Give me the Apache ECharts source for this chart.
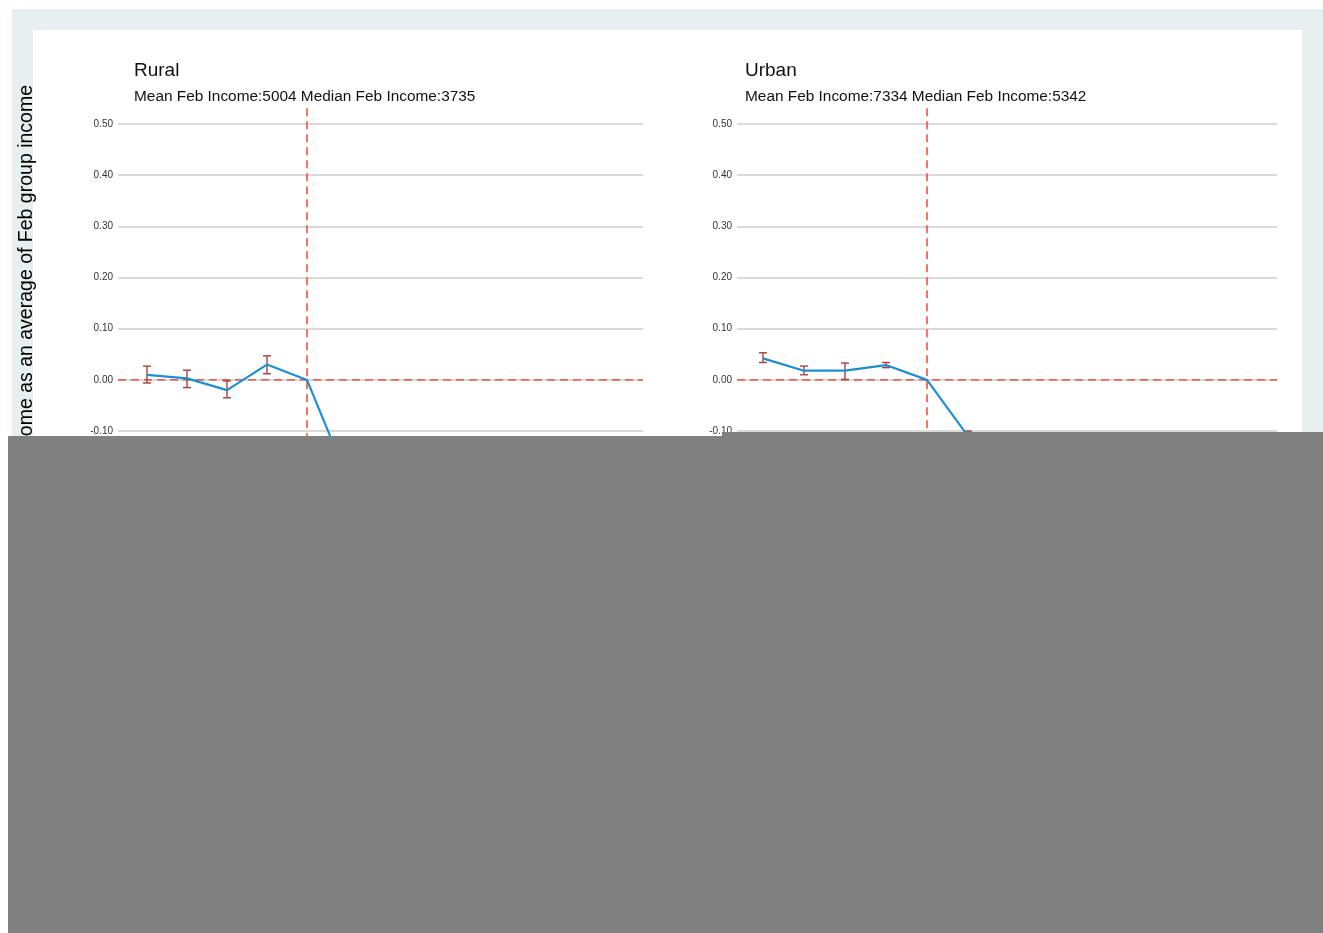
<!DOCTYPE html>
<html>
<head>
<meta charset="utf-8">
<title>Income relative to February, Rural vs Urban</title>
<script src="https://cdn.jsdelivr.net/npm/echarts@6/dist/echarts.min.js"></script>
<style>
  html, body { margin: 0; padding: 0; background: #ffffff; }
  #chart { width: 1323px; height: 933px; }
</style>
</head>
<body>
<div id="chart"></div>
<script>
// Months relative to February (0 = February)
const offsets = [-4, -3, -2, -1, 0, 1];

// Rural: income as a share of February group income, with error bars
const ruralMean = [0.010, 0.003, -0.020, 0.030, 0.000, -0.190];
const ruralLow  = [-0.006, -0.015, -0.035, 0.012, null, null];
const ruralHigh = [0.027, 0.019, -0.002, 0.047, null, null];

// Urban
const urbanMean = [0.042, 0.018, 0.018, 0.029, 0.000, -0.110];
const urbanLow  = [0.034, 0.010, 0.001, 0.024, null, -0.120];
const urbanHigh = [0.053, 0.027, 0.033, 0.034, null, -0.100];

const panelTitles = ['Rural', 'Urban'];
const panelSubtitles = [
  'Mean Feb Income:5004 Median Feb Income:3735',
  'Mean Feb Income:7334 Median Feb Income:5342'
];
const yAxisTitle = 'Income as an average of Feb group income';

const FONT = 'Arial, "Liberation Sans", sans-serif';
const LINE_BLUE = '#1b8fd6';
const ERR_RED = '#a84040';
const REF_RED = '#f23a22';

const chart = echarts.init(document.getElementById('chart'), null, { renderer: 'canvas' });

// Panel geometry
const grids = [
  { left: 118, right: 680, top: 124, height: 563 },
  { left: 737, right: 46, top: 124, height: 563 }
];
const xRanges = [[-4.725, 8.4], [-4.634, 8.537]];
const Y_MIN = -0.6, Y_MAX = 0.5;

function errorSeries(idx, low, high) {
  const data = [];
  offsets.forEach((x, i) => {
    if (low[i] != null && high[i] != null) data.push([x, low[i], high[i]]);
  });
  return {
    type: 'custom',
    xAxisIndex: idx, yAxisIndex: idx,
    z: 4,
    data: data,
    renderItem: function (params, api) {
      const x = api.value(0);
      const lo = api.coord([x, api.value(1)]);
      const hi = api.coord([x, api.value(2)]);
      const cap = 4;
      const st = { stroke: ERR_RED, lineWidth: 1.4 };
      return {
        type: 'group',
        children: [
          { type: 'line', shape: { x1: lo[0], y1: lo[1], x2: hi[0], y2: hi[1] }, style: st },
          { type: 'line', shape: { x1: lo[0] - cap, y1: lo[1], x2: lo[0] + cap, y2: lo[1] }, style: st },
          { type: 'line', shape: { x1: hi[0] - cap, y1: hi[1], x2: hi[0] + cap, y2: hi[1] }, style: st }
        ]
      };
    }
  };
}

function refLines(idx) {
  const r = xRanges[idx];
  return [
    {
      type: 'line', xAxisIndex: idx, yAxisIndex: idx, z: 3,
      data: [[r[0], 0], [r[1], 0]],
      symbol: 'none', silent: true,
      lineStyle: { color: REF_RED, width: 1.4, type: [8, 5] }
    },
    {
      type: 'line', xAxisIndex: idx, yAxisIndex: idx, z: 3,
      data: [[0, 0.531], [0, Y_MIN]],
      symbol: 'none', silent: true, clip: false,
      lineStyle: { color: REF_RED, width: 1.4, type: [8, 5] }
    }
  ];
}

function meanSeries(idx, mean) {
  return {
    type: 'line', xAxisIndex: idx, yAxisIndex: idx, z: 5,
    data: offsets.map((x, i) => [x, mean[i]]),
    symbol: 'none',
    lineStyle: { color: LINE_BLUE, width: 2.2 }
  };
}

const xAxes = xRanges.map((r, i) => ({
  type: 'value', gridIndex: i, min: r[0], max: r[1],
  show: false, splitLine: { show: false }
}));

const yAxes = [0, 1].map(i => ({
  type: 'value', gridIndex: i, min: Y_MIN, max: Y_MAX, interval: 0.1,
  axisLine: { show: false }, axisTick: { show: false },
  axisLabel: {
    fontFamily: FONT, fontSize: 10, color: '#333333', margin: 5,
    formatter: v => v.toFixed(2)
  },
  splitLine: { show: true, lineStyle: { color: '#cdcdcd', width: 1.5 } }
}));

const option = {
  backgroundColor: '#ffffff',
  animation: false,
  title: [
    {
      text: panelTitles[0], subtext: panelSubtitles[0],
      left: 129, top: 56, itemGap: 9,
      textStyle: { fontFamily: FONT, fontSize: 19, fontWeight: 'normal', color: '#111111' },
      subtextStyle: { fontFamily: FONT, fontSize: 15.4, color: '#111111' }
    },
    {
      text: panelTitles[1], subtext: panelSubtitles[1],
      left: 740, top: 56, itemGap: 9,
      textStyle: { fontFamily: FONT, fontSize: 19, fontWeight: 'normal', color: '#111111' },
      subtextStyle: { fontFamily: FONT, fontSize: 15.4, color: '#111111' }
    }
  ],
  grid: grids,
  xAxis: xAxes,
  yAxis: yAxes,
  series: [
    ...refLines(0),
    meanSeries(0, ruralMean),
    errorSeries(0, ruralLow, ruralHigh),
    ...refLines(1),
    meanSeries(1, urbanMean),
    errorSeries(1, urbanLow, urbanHigh)
  ],
  graphic: [
    // page frame
    { type: 'rect', z: -20, silent: true, shape: { x: 12, y: 9, width: 1311, height: 924 }, style: { fill: '#e8eff1' } },
    { type: 'rect', z: -19, silent: true, shape: { x: 33, y: 30, width: 1269, height: 903 }, style: { fill: '#ffffff' } },
    // shared y-axis title
    {
      type: 'text', z: 10, x: 27, y: 85, rotation: Math.PI / 2,
      style: {
        text: yAxisTitle, fontFamily: FONT, fontSize: 19.5, fill: '#000000',
        textAlign: 'right', textVerticalAlign: 'middle'
      }
    },
    // lower cover panel
    { type: 'rect', z: 100, silent: true, shape: { x: 8, y: 436, width: 1315, height: 497 }, style: { fill: '#808080' } },
    { type: 'rect', z: 100, silent: true, shape: { x: 722, y: 432, width: 601, height: 5 }, style: { fill: '#808080' } }
  ]
};

chart.setOption(option);
</script>
</body>
</html>
